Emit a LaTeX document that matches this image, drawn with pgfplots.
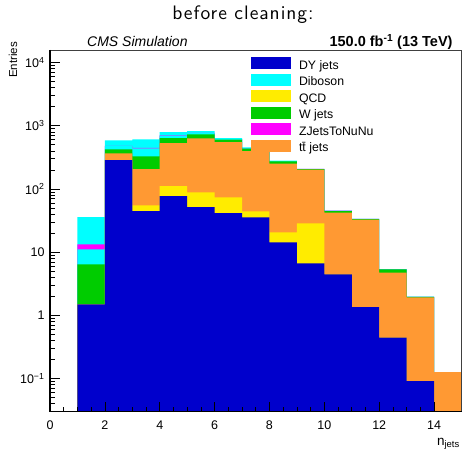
\documentclass[border=0pt]{standalone}
\usepackage{fontspec}
\setmainfont{Liberation Sans}
\newfontfamily\titlefont{lmsans10-regular.otf}[LetterSpace=5]
\usepackage{pgfplots}
\pgfplotsset{compat=1.18}
\definecolor{dyblue}{RGB}{0,0,204}
\definecolor{dibcyan}{RGB}{0,255,255}
\definecolor{qcdyel}{RGB}{255,236,0}
\definecolor{wgreen}{RGB}{0,204,0}
\definecolor{zmag}{RGB}{255,0,255}
\definecolor{ttorange}{RGB}{255,153,51}
\begin{document}
\begin{tikzpicture}
\path[use as bounding box] (-50pt,-38.3pt) rectangle (412pt,411.7pt);
\begin{axis}[
  scale only axis, width=411.5pt, height=361.7pt,
  xmin=0, xmax=15, ymin=0.03, ymax=15800, ymode=log,
  log origin=infty,
  axis on top,
  xtick={0,2,...,14}, minor x tick num=3,
  ytick={0.1,1,10,100,1000,10000},
  yticklabels={10\textsuperscript{−1},1,10,10\textsuperscript{2},10\textsuperscript{3},10\textsuperscript{4}},
  minor ytick={0.03,0.04,0.05,0.06,0.07,0.08,0.09,0.2,0.3,0.4,0.5,0.6,0.7,0.8,0.9,2,3,4,5,6,7,8,9,20,30,40,50,60,70,80,90,200,300,400,500,600,700,800,900,2000,3000,4000,5000,6000,7000,8000,9000},
  xtick pos=bottom, ytick pos=left,
  major tick length=10pt, minor tick length=5pt,
  tick style={black, line width=0.7pt},
  axis line style={black!75, line width=0.5pt},
  /pgf/number format/assume math mode=true,
  ticklabel style={font=\fontsize{12.5}{14}\selectfont},
  xticklabel style={yshift=-6pt},
  yticklabel style={xshift=-2pt},
  legend cell align=left,
  legend image code/.code={\fill[#1, draw=none] (0pt,-3pt) rectangle (40pt,9pt);},
  legend style={at={(rel axis cs:0.4885,0.9798)}, anchor=north west, draw=none, fill=none,
    font=\fontsize{12.3}{14}\selectfont, row sep=1.5pt, inner sep=0pt, outer sep=0pt,
    nodes={inner sep=0pt, text height=9pt, text depth=3pt},
    /tikz/every odd column/.append style={column sep=8pt}},
  after end axis/.code={\draw[black, line width=1.2pt] (rel axis cs:0,1) -- (rel axis cs:0,0) -- (rel axis cs:1,0);},
]
% top of stack (second cyan component)
\addplot[ybar interval, fill=dibcyan, draw=none, forget plot] coordinates {
(1,35.9)(2,588)(3,609)(4,795)(5,824)(6,639)(7,455)(8,280)(9,209)(10,45.6)(11,33.8)(12,5.4)(13,1.98)(14,0.127)(15,0.127)};
% ZJetsToNuNu cumulative
\addplot[ybar interval, fill=zmag, draw=none, forget plot] coordinates {
(1,13.3)(2,482)(3,447)(4,702)(5,772)(6,616)(7,441)(8,276.5)(9,207.5)(10,45.3)(11,33.7)(12,5.37)(13,1.97)(14,0.127)(15,0.127)};
% Diboson cumulative
\addplot[ybar interval, fill=dibcyan, draw=none, forget plot] coordinates {
(1,11.1)(2,480)(3,439)(4,700)(5,770)(6,615)(7,440)(8,276)(9,207)(10,45)(11,33.6)(12,5.36)(13,1.97)(14,0.127)(15,0.127)};
% W jets cumulative
\addplot[ybar interval, fill=wgreen, draw=none, forget plot] coordinates {
(1,6.41)(2,423)(3,328)(4,639)(5,731)(6,603)(7,434)(8,273)(9,206)(10,44.7)(11,33.5)(12,5.34)(13,1.96)(14,0.127)(15,0.127)};
% ttbar cumulative
\addplot[ybar interval, fill=ttorange, draw=none, forget plot] coordinates {
(1,1.49)(2,366)(3,206.5)(4,532)(5,632)(6,552)(7,398)(8,251)(9,202)(10,42.2)(11,32.7)(12,4.74)(13,1.93)(14,0.127)(15,0.127)};
% QCD cumulative
\addplot[ybar interval, fill=qcdyel, draw=none, forget plot] coordinates {
(1,1.49)(2,287)(3,55)(4,111)(5,88.4)(6,73.6)(7,44.2)(8,20.6)(9,28.5)(10,4.45)(11,1.35)(12,0.444)(13,0.0913)(14,0.0913)};
% DY jets
\addplot[ybar interval, fill=dyblue, draw=none, forget plot] coordinates {
(1,1.49)(2,287)(3,44.7)(4,77.2)(5,51.7)(6,41.6)(7,35.5)(8,14.3)(9,6.65)(10,4.45)(11,1.35)(12,0.444)(13,0.0913)(14,0.0913)};
\addlegendimage{fill=dyblue}\addlegendentry{DY jets}
\addlegendimage{fill=dibcyan}\addlegendentry{Diboson}
\addlegendimage{fill=qcdyel}\addlegendentry{QCD}
\addlegendimage{fill=wgreen}\addlegendentry{W jets}
\addlegendimage{fill=zmag}\addlegendentry{ZJetsToNuNu}
\addlegendimage{fill=ttorange}\addlegendentry{t\={t} jets}
\end{axis}
\node[font={\titlefont\fontsize{19.5}{22}\selectfont}, anchor=base, inner sep=0pt] at (193pt,391.7pt) {before cleaning:};
\node[font=\itshape\fontsize{14}{16}\selectfont, anchor=base west, inner sep=0pt] at (37pt,365.2pt) {CMS Simulation};
\node[font=\bfseries\fontsize{14.5}{16}\selectfont, anchor=base east, inner sep=0pt] at (402.7pt,365.2pt) {150.0 fb\textsuperscript{-1} (13 TeV)};
\node[font=\fontsize{11.5}{13}\selectfont, rotate=90, anchor=east, inner sep=0pt] at (-37pt,369.7pt) {Entries};
\node[font=\fontsize{13.5}{15}\selectfont, anchor=base east, inner sep=0pt] at (410pt,-33.3pt) {n\textsubscript{jets}};
\end{tikzpicture}
\end{document}
